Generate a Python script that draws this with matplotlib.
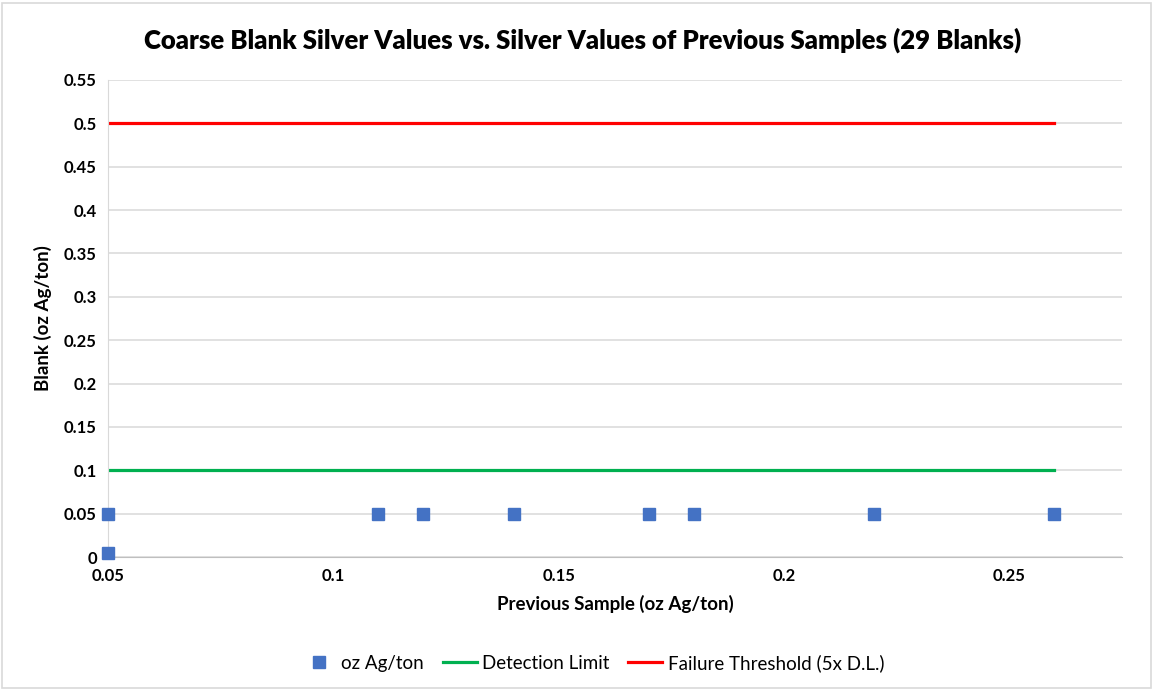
import matplotlib
matplotlib.use("Agg")
import matplotlib.pyplot as plt
from matplotlib.patches import Rectangle

# blank values vs previous sample values
prev_sample = [0.05, 0.05, 0.11, 0.12, 0.14, 0.17, 0.18, 0.22, 0.26]
blank_value = [0.05, 0.005, 0.05, 0.05, 0.05, 0.05, 0.05, 0.05, 0.05]

limit_x = [0.05, 0.26]
detection_limit = [0.1, 0.1]
failure_threshold = [0.5, 0.5]

x_ticks = [0.05, 0.1, 0.15, 0.2, 0.25]
x_labels = ["0.05", "0.1", "0.15", "0.2", "0.25"]
y_ticks = [0, 0.05, 0.1, 0.15, 0.2, 0.25, 0.3, 0.35, 0.4, 0.45, 0.5, 0.55]
y_labels = ["0", "0.05", "0.1", "0.15", "0.2", "0.25", "0.3", "0.35", "0.4", "0.45", "0.5", "0.55"]

plt.rcParams['font.family'] = ['Lato', 'DejaVu Sans']

fig = plt.figure(figsize=(11.54, 6.9), dpi=100)
ax = fig.add_axes([108 / 1154, 133 / 690, (1122 - 108) / 1154, (557 - 80) / 690])

# outer chart border
fig.patches.append(Rectangle((0.002, 0.003), 0.995, 0.993, transform=fig.transFigure,
                             fill=False, edgecolor='#d9d9d9', linewidth=1.2))

ax.plot(prev_sample, blank_value, linestyle='none', marker='s', markersize=8,
        color='#4472C4', label='oz Ag/ton', zorder=3, clip_on=False)
ax.plot(limit_x, detection_limit, color='#00B050', linewidth=2.3, label='Detection Limit', zorder=2)
ax.plot(limit_x, failure_threshold, color='#FF0000', linewidth=2.3,
        label='Failure Threshold (5x D.L.)', zorder=2)

ax.set_xlim(0.05, 0.275)
ax.set_ylim(0, 0.55)
ax.set_xticks(x_ticks)
ax.set_xticklabels(x_labels, fontsize=12, fontweight='bold')
ax.set_yticks(y_ticks)
ax.set_yticklabels(y_labels, fontsize=12, fontweight='bold')
ax.tick_params(length=0, pad=8)
ax.yaxis.grid(True, color='#d9d9d9', linewidth=1.1)
ax.set_axisbelow(True)
for side in ['top', 'right']:
    ax.spines[side].set_visible(False)
ax.spines['left'].set_color('#d9d9d9')
ax.spines['bottom'].set_color('#bfbfbf')

ax.set_xlabel('Previous Sample (oz Ag/ton)', fontsize=13.5, fontweight='bold', labelpad=8)
ax.set_ylabel('Blank (oz Ag/ton)', fontsize=13.5, fontweight='bold', labelpad=9)

fig.text(583 / 1154, 1 - 40 / 690, 'Coarse Blank Silver Values vs. Silver Values of Previous Samples (29 Blanks)',
         ha='center', va='center', fontsize=18.5, fontweight='heavy')

fig.legend(loc='center', bbox_to_anchor=(0.514, 1 - 663 / 690), ncol=3, frameon=False,
           fontsize=13.5, handlelength=1.8, columnspacing=1.0, handletextpad=0.3)

fig.savefig('out.png', dpi=100)
